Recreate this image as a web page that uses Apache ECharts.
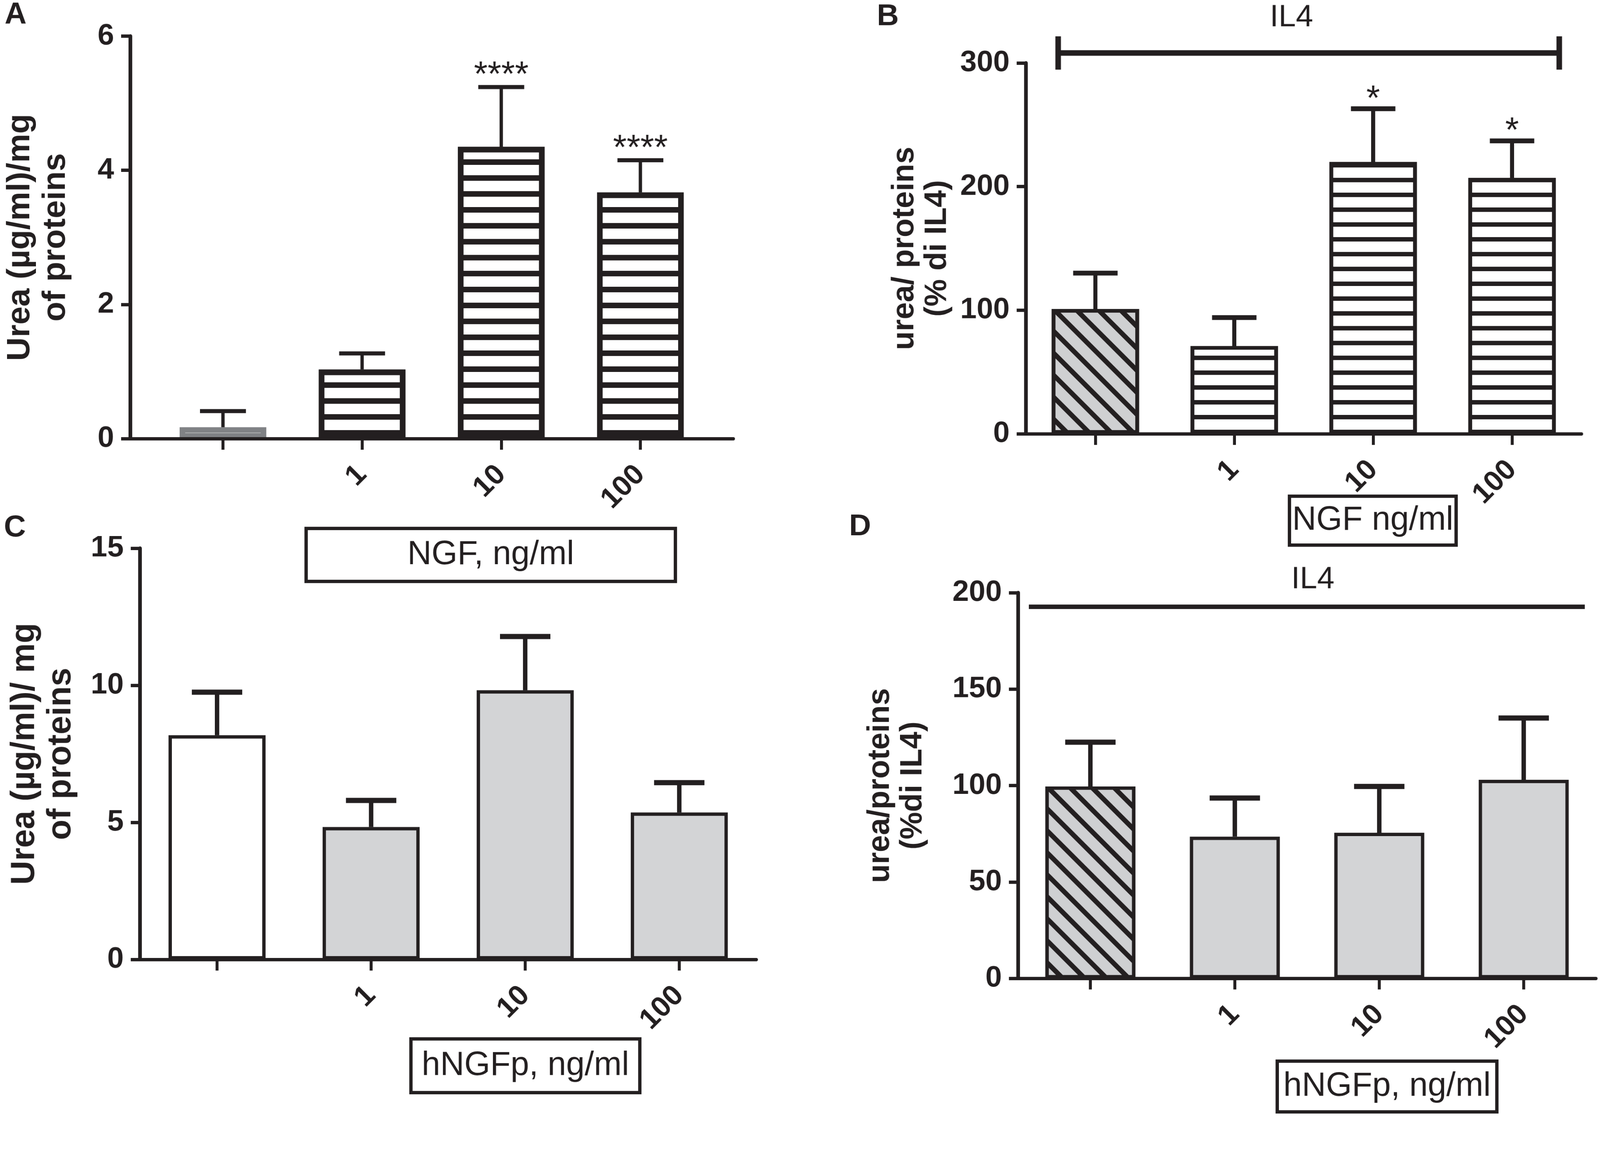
<!DOCTYPE html>
<html><head><meta charset="utf-8">
<script src="https://cdn.jsdelivr.net/npm/echarts@6/dist/echarts.min.js"></script>
<style>html,body{margin:0;padding:0;background:#fff;overflow:hidden}#c{width:4320px;height:3010px;transform-origin:0 0}</style>
</head><body><div id="c"></div>
<script>
// ---------- data ----------
const positions = [1, 2, 3, 4];
const tickLabels = ['', '1', '10', '100'];

const aMean  = [0.17, 1.03, 4.35, 3.67];
const aUpper = [0.41, 1.27, 5.24, 4.15];
const aSig   = ['', '', '****', '****'];

const bMean  = [101, 71, 220, 207];
const bUpper = [130, 94, 263, 237];
const bSig   = ['', '', '*', '*'];

const cMean  = [8.18, 4.83, 9.82, 5.36];
const cUpper = [9.75, 5.80, 11.78, 6.45];
const cSig   = ['', '', '', ''];

const dMean  = [99.5, 73.5, 75.5, 103];
const dUpper = [122.5, 93.5, 99.5, 135];
const dSig   = ['', '', '', ''];

// IL4 annotation spans (x from, x to, y level, text x, text y) in axis units
const il4B = [0.732, 4.34, 308.1, 2.412, 336.7];
const il4D = [0.574, 4.423, 192.7, 2.54, 206.7];

// ---------- fit the 4320x3010 design into the window ----------
const el = document.getElementById('c');
const sc = Math.min(window.innerWidth / 4320, window.innerHeight / 3010);
el.style.transform = 'scale(' + sc + ')';

// ---------- styles ----------
const INK = '#231f20';
const GREY = '#d3d4d6';
const FONT = "'Liberation Sans', Arial, sans-serif";
const hStripeA = {symbol:'rect', symbolSize:1, dashArrayX:[1,0], dashArrayY:[15,28], rotation:0, color:INK};
const hStripeB = {symbol:'rect', symbolSize:1, dashArrayX:[1,0], dashArrayY:[12,28], rotation:0, color:INK};
const dStripe = {symbol:'rect', symbolSize:1, dashArrayX:[1,0], dashArrayY:[13,29], rotation:Math.PI/4, color:INK};

const grids = [
  {left:352, top:97.5, width:1628, height:1086.5},
  {left:2770, top:170, width:1500, height:1001},
  {left:378, top:1480, width:1664, height:1110},
  {left:2749, top:1600, width:1560, height:1041}
];
const xRanges = [[0.3346, 4.668],[0.5,4.5],[0.5,4.5],[0.5,4.5]];
const yAxesCfg = [
  {max:6, interval:2, name:'Urea (\u00b5g/ml)/mg\nof proteins', gap:153, fs:88, lh:96},
  {max:300, interval:100, name:'urea/ proteins\n(% di IL4)', gap:195, fs:83, lh:88},
  {max:15, interval:5, name:'Urea (\u00b5g/ml)/ mg\nof proteins', gap:164, fs:90, lh:98},
  {max:200, interval:50, name:'urea/proteins\n(%di IL4)', gap:240, fs:83, lh:88}
];

const xAxis = grids.map((g,i)=>({
  type:'value', gridIndex:i, min:xRanges[i][0], max:xRanges[i][1], z:6,
  splitLine:{show:false},
  axisLine:{show:true, onZero:false, lineStyle:{color:INK, width:9}},
  axisTick:{show:true, customValues:positions, length:30, lineStyle:{color:INK, width:8}},
  axisLabel:{show:true, customValues:positions, rotate:45, margin:85, color:INK,
    fontFamily:FONT, fontWeight:'bold', fontSize:78,
    formatter:v=>tickLabels[Math.round(v)-1] || ''}
}));
const yAxis = yAxesCfg.map((c,i)=>({
  type:'value', gridIndex:i, min:0, max:c.max, interval:c.interval, z:6,
  splitLine:{show:false},
  axisLine:{show:true, lineStyle:{color:INK, width:10}},
  axisTick:{show:true, length:25, lineStyle:{color:INK, width:9}},
  axisLabel:{margin:44, color:INK, fontFamily:FONT, fontWeight:'bold', fontSize:80},
  name:c.name, nameLocation:'middle', nameGap:c.gap,
  nameTextStyle:{color:INK, fontFamily:FONT, fontWeight:'bold', fontSize:c.fs, lineHeight:c.lh, align:'center'}
}));

function barSeries(idx, means, barW, border, styleFn){
  return {type:'bar', xAxisIndex:idx, yAxisIndex:idx, barWidth:barW, z:2,
    data: means.map((v,i)=>({value:[positions[i], v], itemStyle:Object.assign({borderWidth:border, borderColor:INK}, styleFn(i))}))
  };
}
function errSeries(idx, means, uppers, sigs, lw, capHalf, sigFs, sigOff){
  return {type:'custom', xAxisIndex:idx, yAxisIndex:idx, z:4,
    data: means.map((v,i)=>[positions[i], v, uppers[i]]),
    renderItem:(params, api)=>{
      const x = api.value(0), m = api.value(1), u = api.value(2);
      const p0 = api.coord([x,m]), p1 = api.coord([x,u]);
      const st = {stroke:INK, lineWidth:lw, lineCap:'butt'};
      const ch = [
        {type:'line', shape:{x1:p0[0], y1:p0[1], x2:p1[0], y2:p1[1]}, style:st},
        {type:'line', shape:{x1:p1[0]-capHalf, y1:p1[1], x2:p1[0]+capHalf, y2:p1[1]}, style:Object.assign({}, st, {lineWidth:lw+2})}
      ];
      const s = sigs[params.dataIndex];
      if (s) ch.push({type:'text', x:p1[0], y:p1[1]-sigOff,
        style:{text:s, fill:INK, fontSize:sigFs, fontFamily:FONT, align:'center', verticalAlign:'middle'}});
      return {type:'group', children:ch};
    }
  };
}
function il4Series(idx, spec, lw, capH){
  return {type:'custom', xAxisIndex:idx, yAxisIndex:idx, z:4, clip:false,
    data:[spec],
    renderItem:(params, api)=>{
      const a = api.coord([api.value(0), api.value(2)]);
      const b = api.coord([api.value(1), api.value(2)]);
      const t = api.coord([api.value(3), api.value(4)]);
      const st = {stroke:INK, lineWidth:lw, lineCap:'butt'};
      const ch = [{type:'line', shape:{x1:a[0], y1:a[1], x2:b[0], y2:b[1]}, style:st}];
      if (capH) {
        ch.push({type:'line', shape:{x1:a[0], y1:a[1]-capH, x2:a[0], y2:a[1]+capH}, style:st});
        ch.push({type:'line', shape:{x1:b[0], y1:b[1]-capH, x2:b[0], y2:b[1]+capH}, style:st});
      }
      ch.push({type:'text', x:t[0], y:t[1], style:{text:'IL4', fill:INK, fontSize:84, fontFamily:FONT, align:'center', verticalAlign:'middle'}});
      return {type:'group', children:ch};
    }
  };
}

const series = [
  barSeries(0, aMean, 234, 15, i=> i===0 ? {color:'#fff', borderColor:'#808285'} : {color:'#fff', decal:hStripeA}),
  errSeries(0, aMean, aUpper, aSig, 9, 62, 95, 30),
  barSeries(1, bMean, 236, 10, i=> i===0 ? {color:'#cfd0d2', decal:dStripe} : {color:'#fff', decal:hStripeB}),
  errSeries(1, bMean, bUpper, bSig, 11, 60, 95, 24),
  il4Series(1, il4B, 15, 45),
  barSeries(2, cMean, 262, 9, i=> i===0 ? {color:'#fff'} : {color:GREY}),
  errSeries(2, cMean, cUpper, cSig, 12, 68, 95, 30),
  barSeries(3, dMean, 243, 9, i=> i===0 ? {color:'#cfd0d2', decal:dStripe} : {color:GREY}),
  errSeries(3, dMean, dUpper, dSig, 12, 68, 95, 30),
  il4Series(3, il4D, 12, 0)
];

function box(x0,y0,x1,y1,text){
  const lw = 9;
  return {type:'group', children:[
    {type:'rect', shape:{x:x0+lw/2, y:y0+lw/2, width:x1-x0-lw, height:y1-y0-lw}, style:{fill:'#fff', stroke:INK, lineWidth:lw}},
    {type:'text', x:(x0+x1)/2, y:(y0+y1)/2, style:{text:text, fill:INK, fontSize:90, fontFamily:FONT, align:'center', verticalAlign:'middle'}}
  ]};
}
function letter(x,y,t){
  return {type:'text', x:x, y:y, style:{text:t, fill:INK, fontSize:82, fontWeight:'bold', fontFamily:FONT, align:'center', verticalAlign:'middle'}};
}

const chart = echarts.init(el, null, {renderer:'canvas', width:4320, height:3010});
chart.setOption({
  animation:false,
  backgroundColor:'#fff',
  grid:grids,
  xAxis:xAxis,
  yAxis:yAxis,
  series:series,
  graphic:[
    letter(42,40,'A'), letter(2397,45,'B'), letter(40,1425,'C'), letter(2322,1422,'D'),
    box(822,1422,1828,1574,'NGF, ng/ml'),
    box(3477,1335,3936,1476,'NGF ng/ml'),
    box(1105,2800,1732,2954,'hNGFp, ng/ml'),
    box(3444,2860,4046,3006,'hNGFp, ng/ml')
  ]
});
</script>
</body></html>
